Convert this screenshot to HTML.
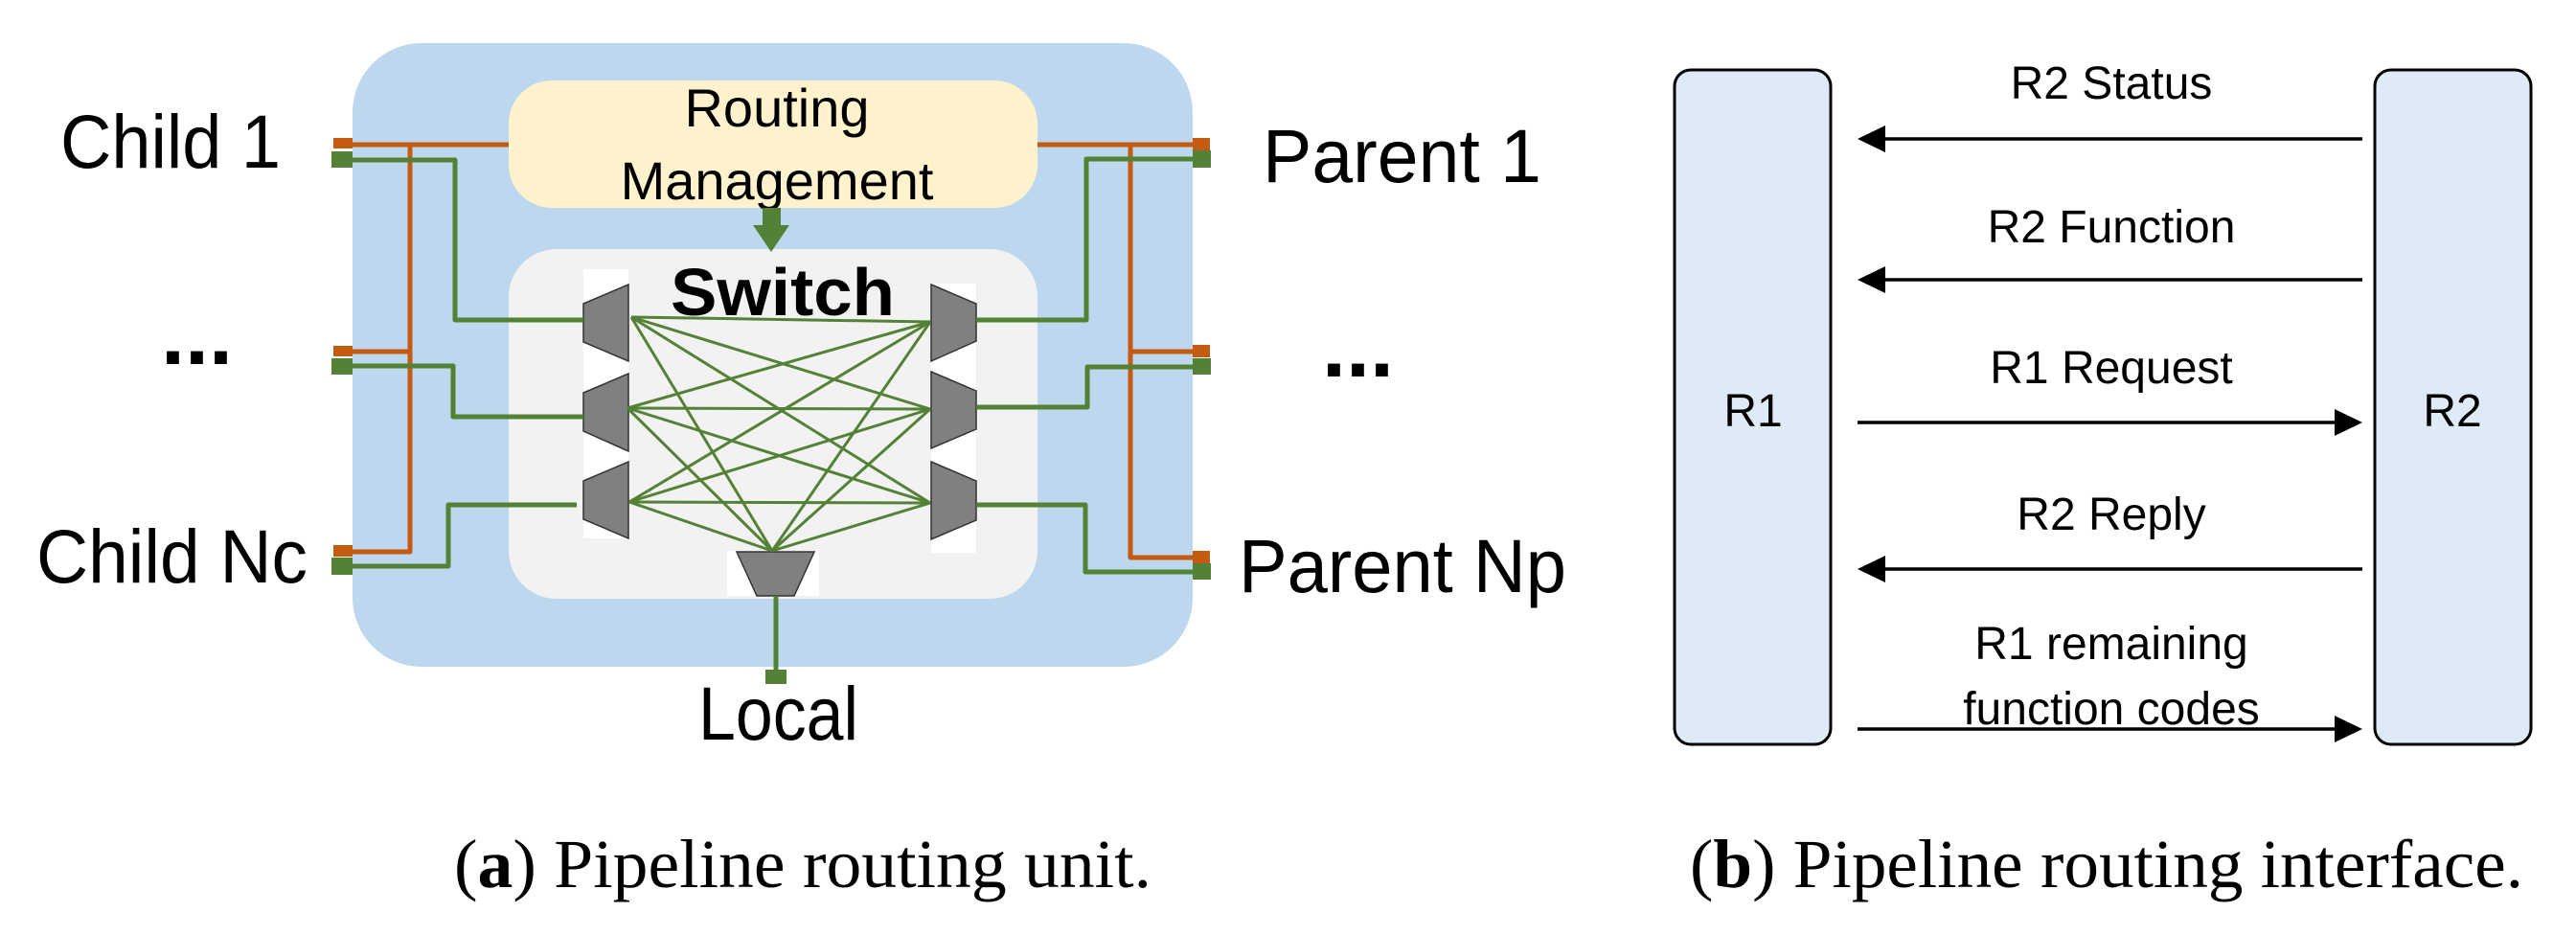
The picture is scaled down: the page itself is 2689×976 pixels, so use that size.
<!DOCTYPE html>
<html><head><meta charset="utf-8"><style>
html,body{margin:0;padding:0;background:#fff;}
svg{display:block;}
</style></head><body>
<svg width="2689" height="976" viewBox="0 0 2689 976" xmlns="http://www.w3.org/2000/svg">
<!-- Panel a -->
<rect x="368" y="45" width="877" height="651" rx="72" fill="#bdd7ee"/>
<rect x="531" y="84" width="552" height="133" rx="45" fill="#fff2cc"/>
<rect x="531" y="260" width="552" height="365" rx="50" fill="#f2f2f2"/>
<text x="811" y="132" font-family="Liberation Sans, sans-serif" font-size="56" text-anchor="middle" fill="#000">Routing</text>
<text x="811" y="208" font-family="Liberation Sans, sans-serif" font-size="56" text-anchor="middle" fill="#000">Management</text>
<rect x="796" y="217" width="19" height="20" fill="#538135"/>
<polygon points="786,235 824,235 805,263" fill="#538135"/>
<text x="817" y="329" font-family="Liberation Sans, sans-serif" font-size="70" font-weight="bold" text-anchor="middle" fill="#000" textLength="234" lengthAdjust="spacingAndGlyphs">Switch</text>
<rect x="609" y="281" width="47" height="281" fill="#fff"/>
<rect x="972" y="296" width="47" height="281" fill="#fff"/>
<rect x="759" y="575" width="96" height="47" fill="#fff"/>
<g fill="#808080" stroke="#333" stroke-width="1.5">
<polygon points="609,317 656,297 656,377 609,357"/>
<polygon points="609,410 656,390 656,471 609,450"/>
<polygon points="609,502 656,482 656,562 609,542"/>
<polygon points="972,297 1019,317 1019,356 972,377"/>
<polygon points="972,388 1019,408 1019,448 972,468"/>
<polygon points="972,482 1019,502 1019,543 972,563"/>
<polygon points="769,576 850,576 829,622 790,622"/>
</g>
<g stroke="#538135" stroke-width="3" fill="none">
<line x1="659" y1="331" x2="971" y2="336"/><line x1="659" y1="331" x2="971" y2="427"/><line x1="659" y1="331" x2="971" y2="525"/><line x1="659" y1="331" x2="806" y2="575"/>
<line x1="655" y1="426" x2="971" y2="336"/><line x1="655" y1="426" x2="971" y2="427"/><line x1="655" y1="426" x2="971" y2="525"/><line x1="655" y1="426" x2="806" y2="575"/>
<line x1="657" y1="524" x2="971" y2="336"/><line x1="657" y1="524" x2="971" y2="427"/><line x1="657" y1="524" x2="971" y2="525"/><line x1="657" y1="524" x2="806" y2="575"/>
<line x1="971" y1="336" x2="806" y2="575"/><line x1="971" y1="427" x2="806" y2="575"/><line x1="971" y1="525" x2="806" y2="575"/>
</g>
<g stroke="#c55a11" stroke-width="5" fill="none" stroke-linejoin="round">
<polyline points="368,151 531,151"/>
<polyline points="428,151 428,576 368,576"/>
<polyline points="428,367 368,367"/>
<polyline points="1083,151 1245,151"/>
<polyline points="1180,151 1180,582 1245,582"/>
<polyline points="1180,367 1245,367"/>
</g>
<g stroke="#538135" stroke-width="5" fill="none" stroke-linejoin="round">
<polyline points="368,167 475,167 475,334 609,334"/>
<polyline points="368,382 473,382 473,435 609,435"/>
<polyline points="368,591 468,591 468,527 602,527"/>
<polyline points="1245,166 1134,166 1134,334 1019,334"/>
<polyline points="1245,383 1135,383 1135,425 1019,425"/>
<polyline points="1245,597 1133,597 1133,527 1019,527"/>
<line x1="810" y1="622" x2="810" y2="705"/>
</g>
<g>
<rect x="348" y="144" width="20" height="11" fill="#c55a11"/><rect x="346" y="158" width="22" height="17" fill="#538135"/>
<rect x="348" y="361" width="20" height="11" fill="#c55a11"/><rect x="346" y="374" width="22" height="17" fill="#538135"/>
<rect x="348" y="569" width="20" height="12" fill="#c55a11"/><rect x="346" y="582" width="22" height="18" fill="#538135"/>
<rect x="1245" y="144" width="18" height="13" fill="#c55a11"/><rect x="1245" y="157" width="19" height="18" fill="#538135"/>
<rect x="1245" y="360" width="18" height="13" fill="#c55a11"/><rect x="1245" y="374" width="19" height="17" fill="#538135"/>
<rect x="1245" y="575" width="18" height="13" fill="#c55a11"/><rect x="1245" y="588" width="19" height="17" fill="#538135"/>
<rect x="799" y="699" width="22" height="15" fill="#538135"/>
</g>
<g font-family="Liberation Sans, sans-serif" font-size="79" fill="#000" lengthAdjust="spacingAndGlyphs">
<text x="63" y="175" textLength="230" lengthAdjust="spacingAndGlyphs">Child 1</text>
<text x="38" y="608" textLength="283" lengthAdjust="spacingAndGlyphs">Child Nc</text>
<text x="1318" y="190" textLength="291" lengthAdjust="spacingAndGlyphs">Parent 1</text>
<text x="1293" y="618" textLength="342" lengthAdjust="spacingAndGlyphs">Parent Np</text>
<text x="729" y="772" textLength="167" lengthAdjust="spacingAndGlyphs">Local</text>
<text x="168" y="380" font-weight="bold" font-size="90">...</text>
<text x="1380" y="393" font-weight="bold" font-size="90">...</text>
</g>
<text x="838" y="926" font-family="Liberation Serif, serif" font-size="72" text-anchor="middle" fill="#000" textLength="728" lengthAdjust="spacingAndGlyphs">(<tspan font-weight="bold">a</tspan>)  Pipeline routing unit.</text>

<!-- Panel b -->
<rect x="1748" y="73" width="163" height="704" rx="17" fill="#deebf7" stroke="#000" stroke-width="3"/>
<rect x="2479" y="73" width="163" height="704" rx="17" fill="#deebf7" stroke="#000" stroke-width="3"/>
<g font-family="Liberation Sans, sans-serif" font-size="48" fill="#000" text-anchor="middle">
<text x="1830" y="445">R1</text>
<text x="2560" y="445">R2</text>
<text x="2204" y="103">R2 Status</text>
<text x="2204" y="253">R2 Function</text>
<text x="2204" y="400">R1 Request</text>
<text x="2204" y="553">R2 Reply</text>
<text x="2204" y="688">R1 remaining</text>
<text x="2204" y="756">function codes</text>
</g>
<g stroke="#000" stroke-width="3.5">
<line x1="1966" y1="145" x2="2466" y2="145"/>
<line x1="1966" y1="292" x2="2466" y2="292"/>
<line x1="1939" y1="441" x2="2440" y2="441"/>
<line x1="1966" y1="594" x2="2466" y2="594"/>
<line x1="1939" y1="761" x2="2440" y2="761"/>
</g>
<g fill="#000">
<polygon points="1939,145 1968,131 1968,159"/>
<polygon points="1939,292 1968,278 1968,306"/>
<polygon points="2466,441 2437,427 2437,455"/>
<polygon points="1939,594 1968,580 1968,608"/>
<polygon points="2466,761 2437,747 2437,775"/>
</g>
<text x="2199" y="926" font-family="Liberation Serif, serif" font-size="72" text-anchor="middle" fill="#000" textLength="870" lengthAdjust="spacingAndGlyphs">(<tspan font-weight="bold">b</tspan>)  Pipeline routing interface.</text>
</svg>
</body></html>
